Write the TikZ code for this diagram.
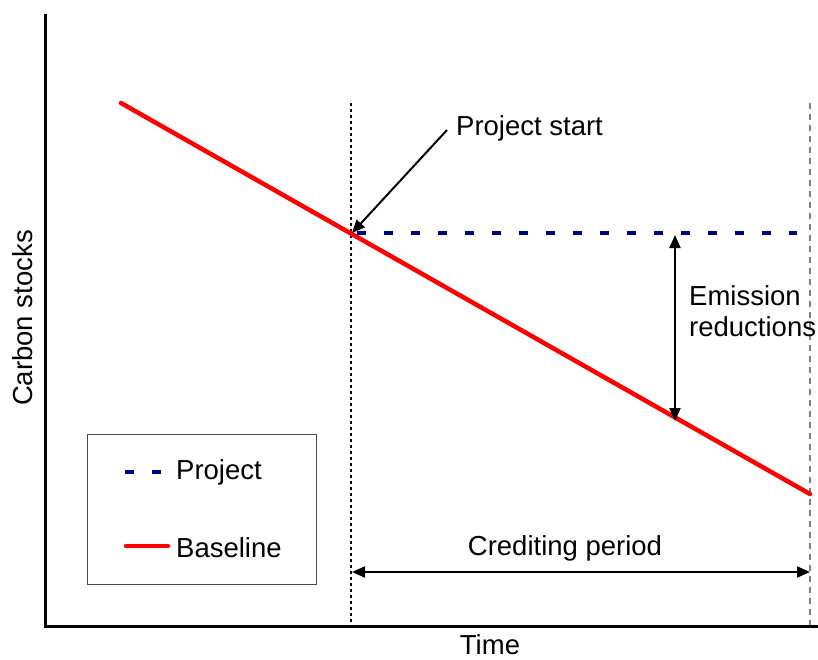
\documentclass[tikz,border=0pt]{standalone}
\usepackage{fontspec}
\setmainfont{Liberation Sans}
\usetikzlibrary{arrows.meta,positioning}
\definecolor{projblue}{RGB}{0,0,128}
\tikzset{
    lbl/.style={font=\fontsize{27.5}{31}\selectfont, inner sep=0pt},
    baseline line/.style={red, line width=4.5pt, line cap=round},
    project line/.style={projblue, line width=4.5pt, dash pattern=on 9pt off 18pt},
    dimarrow/.style={line width=2pt, {Triangle[length=13pt,width=11pt]}-{Triangle[length=13pt,width=11pt]}}
}
\begin{document}
\begin{tikzpicture}[x=1pt, y=-1pt]
    \useasboundingbox (0,0) rectangle (818,659);

    % Key points
    \coordinate (origin) at (45,626);
    \coordinate (ytop) at (45,14);
    \coordinate (xend) at (818,626);
    \coordinate (bstart) at (121,103);
    \coordinate (start) at (352,233);
    \coordinate (bend) at (810,494);
    \coordinate (pend) at (797,233);
    \coordinate (gapbot) at (675,421);
    \coordinate (gaptop) at (675,235);

    % Period markers
    \draw[line width=2.2pt, dash pattern=on 3pt off 3pt] (351,103) -- (351,626);
    \draw[gray, line width=1.2pt, dash pattern=on 6pt off 5pt] (810,103) -- (810,626);

    % Axes
    \draw[line width=3pt] (ytop) -- (origin) -- (xend);
    \node[lbl, rotate=90] (ylab) at (23,318) {Carbon stocks};
    \node[lbl] (xlab) at (490,645) {Time};

    % Baseline and project
    \draw[baseline line] (bstart) -- (bend);
    \draw[project line] (357,233) -- (pend);

    % Project start
    \node[lbl, anchor=west] (startlab) at (456,128) {Project start};
    \draw[line width=2pt, -{Triangle[length=13pt,width=11pt]}] (447,130) -- (start);

    % Emission reductions
    \draw[dimarrow] (gaptop) -- (gapbot);
    \node[lbl, anchor=west, align=left] (erlab) at (689,311) {Emission\\reductions};

    % Crediting period
    \coordinate (cpl) at (352,572);
    \coordinate (cpr) at (810,572);
    \draw[dimarrow] (cpl) -- (cpr);
    \node[lbl] (cplab) at (565,548) {Crediting period};

    % Legend
    \node[draw=black!70, line width=1pt, minimum width=229pt, minimum height=150pt, inner sep=0pt] (legend) at (201.5,509) {};
    \draw[project line] (125,472) -- (162,472);
    \node[lbl, anchor=west] (projlab) at (176,472) {Project};
    \draw[baseline line] (126,546) -- (168,546);
    \node[lbl, anchor=west] (baselab) at (176,548) {Baseline};
\end{tikzpicture}
\end{document}
